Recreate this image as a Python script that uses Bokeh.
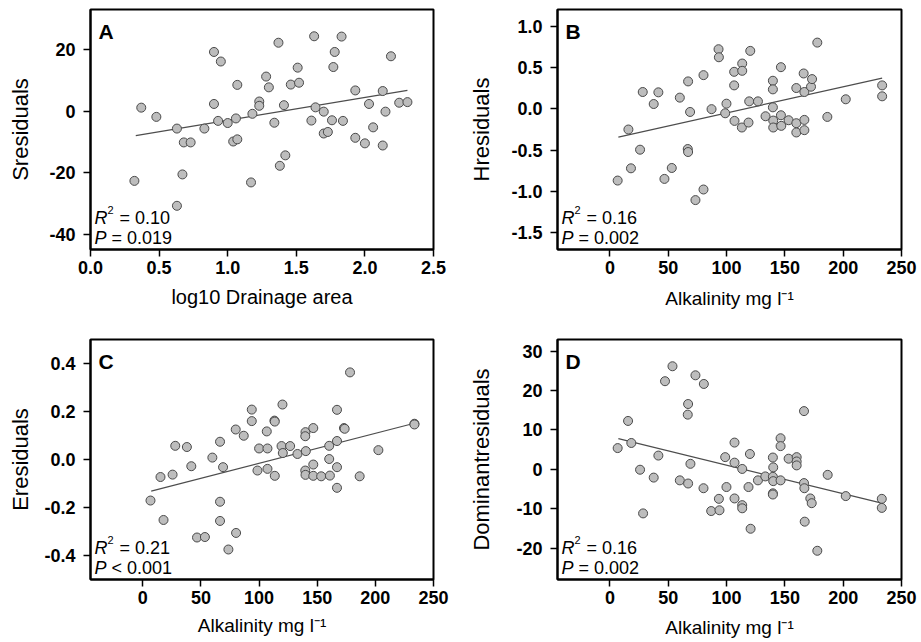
import math
from bokeh.plotting import figure
from bokeh.models import Range1d, FixedTicker, Label, PrintfTickFormatter
from bokeh.layouts import gridplot
from bokeh.embed import file_html
from bokeh.resources import INLINE

FONT = "Liberation Sans"

# ---------------- data ----------------
A_x = [0.32, 0.37, 0.48, 0.63, 0.67, 0.63, 0.68, 0.73, 0.83, 0.90,
       0.90, 0.93, 0.95, 1.00, 1.06, 1.04, 1.07, 1.07, 1.17, 1.18,
       1.23, 1.23, 1.28, 1.30, 1.34, 1.37, 1.38, 1.41, 1.42, 1.46,
       1.51, 1.52, 1.61, 1.63, 1.64, 1.70, 1.70, 1.73, 1.76, 1.77,
       1.78, 1.83, 1.84, 1.93, 1.93, 2.00, 2.03, 2.06, 2.13, 2.13,
       2.15, 2.19, 2.25, 2.31]
A_y = [-22.7, 1.1, -1.9, -5.7, -20.6, -30.8, -10.2, -10.2, -5.7, 19.2,
       2.3, -3.2, 16.1, -3.9, -2.4, -9.9, -9.2, 8.5, -23.2, -0.9,
       3.1, 1.7, 11.2, 7.7, -3.8, 22.2, -17.8, 1.9, -14.4, 8.6,
       14.1, 9.2, -3.1, 24.3, 1.2, -0.2, -7.3, -6.8, -3.0, 14.3,
       19.2, 24.2, -3.2, 6.7, -8.7, -10.5, 2.3, -5.3, -11.2, 6.5,
       -0.2, 17.8, 2.7, 2.9]
A_fit_x = [0.33, 2.31]
A_fit_y = [-8.0, 6.7]

B_x = [6.6, 15.8, 18.0, 25.8, 28.1, 37.5, 41.5, 46.7, 53.0, 59.9,
       67.0, 66.7, 67.0, 68.7, 73.3, 80.2, 80.2, 87.1, 93.1, 93.4,
       99.9, 98.8, 106.5, 106.5, 106.8, 113.4, 113.4, 113.1, 120.3, 119.4,
       118.8, 126.9, 133.4, 139.7, 139.7, 139.7, 140.0, 140.0, 146.6, 146.6,
       146.9, 153.2, 159.8, 159.8, 159.8, 166.1, 166.7, 166.7, 166.7, 172.4,
       173.3, 177.8, 186.4, 202.2, 233.4, 233.4]
B_y = [-0.867, -0.25, -0.719, -0.494, 0.203, 0.058, 0.199, -0.847, -0.715, 0.135,
       0.331, -0.486, -0.522, -0.038, -1.103, 0.407, -0.975, -0.004, 0.72, 0.623,
       0.062, -0.054, 0.447, 0.283, -0.146, 0.547, 0.459, -0.226, 0.70, 0.09,
       -0.166, 0.09, -0.09, 0.339, 0.235, 0.018, -0.142, -0.226, 0.503, -0.078,
       -0.206, -0.138, 0.251, -0.174, -0.286, 0.427, 0.203, -0.134, -0.258, 0.267,
       0.359, 0.80, -0.098, 0.115, 0.283, 0.151]
B_fit_x = [7.2, 233.4]
B_fit_y = [-0.342, 0.371]

C_x = [6.6, 15.2, 17.8, 25.6, 27.9, 37.9, 41.7, 46.6, 53.4, 59.8,
       66.4, 66.4, 66.4, 69.0, 73.6, 79.9, 80.2, 86.8, 93.7, 93.7,
       98.6, 100.0, 106.6, 107.2, 107.2, 113.2, 113.5, 113.5, 120.1, 119.3,
       120.4, 126.7, 133.0, 139.9, 139.7, 140.2, 139.7, 139.9, 146.6, 146.6,
       146.6, 153.4, 160.3, 160.3, 160.9, 167.0, 167.0, 167.0, 167.0, 173.0,
       173.6, 178.2, 186.5, 202.6, 233.6, 233.6]
C_y = [-0.171, -0.073, -0.252, -0.063, 0.057, 0.052, -0.028, -0.325, -0.323, 0.008,
       0.074, -0.176, -0.256, -0.032, -0.375, 0.125, -0.306, 0.099, 0.208, 0.160,
       -0.046, 0.046, 0.117, 0.046, -0.039, 0.162, 0.158, -0.068, 0.229, 0.056,
       0.027, 0.056, 0.023, 0.114, 0.097, 0.035, -0.046, -0.064, 0.131, -0.021,
       -0.068, -0.070, 0.057, 0.002, -0.067, 0.207, 0.077, -0.032, -0.118, 0.131,
       0.128, 0.363, -0.070, 0.039, 0.149, 0.146]
C_fit_x = [7.2, 233.6]
C_fit_y = [-0.132, 0.151]

D_x = [6.6, 15.5, 18.3, 25.8, 28.4, 37.5, 41.5, 47.2, 53.6, 59.9,
       67.0, 66.7, 67.0, 69.0, 73.3, 80.5, 80.2, 86.8, 93.4, 93.9,
       98.8, 99.9, 106.8, 106.8, 106.8, 113.4, 113.4, 113.4, 120.0, 118.8,
       120.6, 126.9, 133.2, 139.7, 140.0, 139.7, 140.0, 139.7, 139.7, 146.3,
       146.3, 146.3, 153.2, 160.1, 160.1, 160.1, 166.4, 166.4, 166.7, 167.0,
       171.8, 173.0, 177.8, 186.7, 202.2, 233.1, 233.1]
D_y = [5.4, 12.3, 6.7, -0.1, -11.2, -2.1, 3.5, 22.4, 26.2, -2.8,
       16.6, 13.9, -3.6, 1.4, 23.9, 21.7, -4.8, -10.6, -7.5, -10.4,
       3.1, -4.5, 6.8, 1.7, -7.4, 0.1, -9.1, -9.9, 3.9, -4.5,
       -15.1, -2.8, -1.8, 3.0, 0.5, -1.9, -3.0, -6.1, -6.4, 7.9,
       5.9, -2.8, 2.7, 3.1, 2.0, 1.0, 14.8, -3.5, -4.8, -13.3,
       -7.4, -8.6, -20.7, -1.4, -6.8, -7.5, -9.8]
D_fit_x = [7.2, 233.1]
D_fit_y = [7.8, -8.6]

A_xticks = [0.0, 0.5, 1.0, 1.5, 2.0, 2.5]
A_yticks = [-40, -20, 0, 20]
ALK_xticks = [0, 50, 100, 150, 200, 250]
B_yticks = [-1.5, -1.0, -0.5, 0.0, 0.5, 1.0]
C_yticks = [-0.4, -0.2, 0.0, 0.2, 0.4]
D_yticks = [-20, -10, 0, 10, 20, 30]

A_xlabel = "log10 Drainage area"
ALK_xlabel = "Alkalinity mg l\u207b\u00b9"
A_ylabel = "Sresiduals"
B_ylabel = "Hresiduals"
C_ylabel = "Eresiduals"
D_ylabel = "Dominantresiduals"

A_stats = ("0.10", "= 0.019")
B_stats = ("0.16", "= 0.002")
C_stats = ("0.21", "< 0.001")
D_stats = ("0.16", "= 0.002")

# ---------------- helpers ----------------
_W = {' ': 278, '-': 333, '.': 278, '=': 584, '<': 584, 'P': 667, 'R': 722}


def tw(s, size):
    return sum(_W.get(c, 556) for c in s) * size / 1000.0


def txt(p, xr, yr, text, dx, dy, size, style="normal"):
    p.add_layout(Label(x=xr[0], y=yr[0], x_offset=dx, y_offset=dy, text=text,
                       text_font=FONT, text_font_size=f"{size}px",
                       text_font_style=style, text_color="black",
                       text_align="left", text_baseline="alphabetic"))


def panel(width, borders, xr, yr, xticks, yticks, xfmt, yfmt, xs, ys, fx, fy,
          letter, ylabel, ylab_standoff, xlabel, xlab_size, xlab_standoff,
          stats):
    left, right, top, bottom = borders
    H = 321
    p = figure(width=width, height=H, output_backend="svg",
               toolbar_location=None, title=None,
               x_range=Range1d(*xr), y_range=Range1d(*yr),
               min_border_left=left, min_border_right=right,
               min_border_top=top, min_border_bottom=bottom)
    fh = H - top - bottom
    p.grid.visible = False
    p.background_fill_color = "white"
    p.border_fill_color = "white"
    p.outline_line_color = "black"
    p.outline_line_width = 2
    p.outline_line_alpha = 1.0
    for ax in (p.xaxis[0], p.yaxis[0]):
        ax.axis_line_width = 2
        ax.axis_line_color = "black"
        ax.major_tick_line_width = 1.5
        ax.major_tick_line_color = "black"
        ax.major_tick_out = 7
        ax.major_tick_in = 0
        ax.minor_tick_out = 0
        ax.minor_tick_in = 0
        ax.major_label_text_font = FONT
        ax.major_label_text_font_size = "18px"
        ax.major_label_text_font_style = "bold"
        ax.major_label_text_color = "black"
        ax.axis_label_text_font = FONT
        ax.axis_label_text_font_style = "normal"
        ax.axis_label_text_color = "black"
    p.xaxis.ticker = FixedTicker(ticks=xticks)
    p.yaxis.ticker = FixedTicker(ticks=yticks)
    p.xaxis.formatter = PrintfTickFormatter(format=xfmt)
    p.yaxis.formatter = PrintfTickFormatter(format=yfmt)
    p.xaxis.major_label_standoff = 4
    p.yaxis.major_label_standoff = 8
    p.xaxis.axis_label = xlabel
    p.xaxis.axis_label_text_font_size = f"{xlab_size}px"
    p.xaxis.axis_label_standoff = xlab_standoff
    p.yaxis.axis_label = ylabel
    p.yaxis.axis_label_text_font_size = "22px"
    p.yaxis.axis_label_standoff = ylab_standoff

    p.line(fx, fy, line_color="#4d4d4d", line_width=1.2)
    p.scatter(xs, ys, size=9, fill_color="#bdbdbd", line_color="#4a4a4a",
              line_width=1)

    # panel letter
    txt(p, xr, yr, letter, 8, fh - 24, 21, style="bold")

    # statistics
    ss = 18
    rw = tw("R", ss)
    txt(p, xr, yr, "R", 4, 32, ss, style="italic")
    txt(p, xr, yr, "2", 4 + rw, 40, 11)
    txt(p, xr, yr, "= " + stats[0], 4 + rw + 7 + tw(" ", ss), 32, ss)
    txt(p, xr, yr, "P", 4, 12, ss, style="italic")
    txt(p, xr, yr, stats[1], 4 + tw("P", ss) + tw(" ", ss), 12, ss)
    return p


pA = panel(460, (90, 27, 9, 70), (0.0, 2.5), (-45, 33), A_xticks, A_yticks,
           "%.1f", "%d", A_x, A_y, A_fit_x, A_fit_y, "A", A_ylabel, 13,
           A_xlabel, 20, 9, A_stats)
pB = panel(461, (97, 20, 7, 72), (-45, 250), (-1.7, 1.2), ALK_xticks, B_yticks,
           "%d", "%.1f", B_x, B_y, B_fit_x, B_fit_y, "B", B_ylabel, 14,
           ALK_xlabel, 19, 11, B_stats)
pC = panel(460, (90, 27, 18, 61), (-45, 250), (-0.5, 0.5), ALK_xticks, C_yticks,
           "%d", "%.1f", C_x, C_y, C_fit_x, C_fit_y, "C", C_ylabel, 8,
           ALK_xlabel, 19, 8, C_stats)
pD = panel(461, (97, 20, 16, 63), (-45, 250), (-28, 33), ALK_xticks, D_yticks,
           "%d", "%d", D_x, D_y, D_fit_x, D_fit_y, "D", D_ylabel, 19,
           ALK_xlabel, 19, 10, D_stats)

grid = gridplot([[pA, pB], [pC, pD]], toolbar_location=None)
open("out.html", "w").write(file_html(grid, INLINE))
